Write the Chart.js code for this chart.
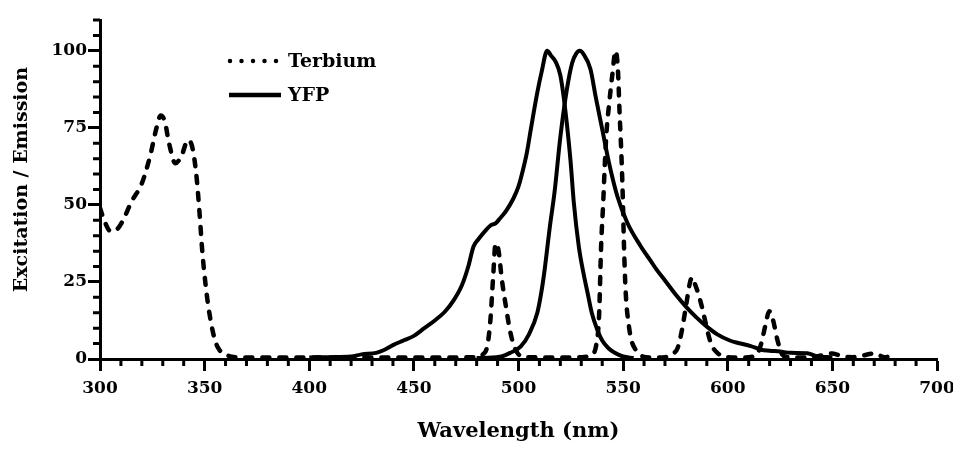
<!DOCTYPE html>
<html>
<head>
<meta charset="utf-8">
<script src="https://cdn.jsdelivr.net/npm/chart.js@4.4.1/dist/chart.umd.min.js"></script>
<style>
  html, body { margin: 0; padding: 0; background: #fff; }
  #wrap { width: 953px; height: 450px; }
</style>
</head>
<body>
<div id="wrap"><canvas id="spectra" width="953" height="450"></canvas></div>
<script>
// Terbium luminescence (excitation + emission lines)
const terbiumWl = [300, 302, 305, 308, 311, 315, 320, 324, 327, 329, 331, 333, 336, 339, 342, 344, 346, 347.5, 349, 351, 353, 355, 357, 360, 363, 370, 380, 400, 420, 440, 460, 480, 483, 485, 486.5, 488, 489, 490.5, 492, 494, 496, 498, 500, 503, 520, 530, 535, 537, 538.5, 539.5, 540.5, 541.3, 542.1, 543.2, 544.8, 546.4, 547.5, 548.3, 549.3, 549.9, 550.4, 551.2, 552.7, 554, 556, 560, 565, 570, 573, 576, 578, 580, 582, 583, 584.5, 586, 588, 590, 592, 595, 600, 608, 612, 614, 616, 618, 619.8, 621.5, 623.8, 626, 629, 640, 645, 650, 655, 660, 665, 670, 675, 680];
const terbiumVal = [49, 45, 41.5, 42, 45, 51, 57, 66, 75, 79, 77, 70, 63.5, 66, 71, 69, 60, 48, 34, 21, 12, 6, 3, 1.5, 0.7, 0.5, 0.5, 0.5, 0.5, 0.5, 0.5, 0.6, 1.5, 4, 12, 28, 37.5, 35, 26, 17, 9, 4, 1.5, 0.6, 0.5, 0.6, 1.5, 4, 14, 37, 51, 64, 74, 82, 92, 100, 94, 80, 64, 51, 37, 22, 11, 6, 3, 0.7, 0.5, 0.6, 1.5, 3.5, 9, 17, 25, 26.5, 24, 21, 16, 10, 5, 2, 0.6, 0.5, 0.8, 1.5, 5, 11, 15.5, 13, 6, 1.5, 0.6, 0.5, 1.2, 1.8, 0.8, 0.6, 1.2, 1.8, 0.6, 1.5];

// YFP excitation
const yfpExWl = [400, 410, 420, 425, 432, 436, 440, 445, 450, 455, 460, 465, 469, 473, 476, 478.5, 481, 484, 487, 489, 491, 494, 497.5, 500, 502, 504, 506, 509, 511, 513.7, 515.5, 517.7, 520, 522.5, 524.9, 526.4, 528.8, 531, 533, 535, 537.7, 540, 543, 546, 550, 555];
const yfpExVal = [0.5, 0.6, 0.8, 1.5, 2, 3, 4.5, 6, 7.5, 10, 12.5, 15.5, 19, 24, 30, 36.5, 39, 41.5, 43.5, 44, 45.5, 48, 52, 56, 61, 67, 75, 86.5, 93, 100, 98.5, 96.5, 92, 80, 64, 51, 36.6, 28, 21.5, 15, 9.4, 6, 3.5, 2, 0.8, 0.3];

// YFP emission
const yfpEmWl = [480, 491, 496, 501, 505, 509, 511, 512.5, 515, 517.2, 520, 523, 525.6, 527.5, 529.3, 531, 534.4, 536.8, 540, 543.2, 547.2, 552, 558.4, 563, 566, 570, 575, 580, 585, 590, 595, 601, 605, 611, 616, 620, 625, 630, 638, 642, 650];
const yfpEmVal = [0.3, 0.7, 2, 4, 8, 15, 22, 29, 43, 54, 72, 87, 96, 99, 100, 99, 94, 85.4, 74.6, 63.8, 52.9, 44.2, 36.6, 32, 29, 25.5, 21, 17, 13.5, 10.5, 8, 6, 5.2, 4.2, 3, 2.7, 2.4, 2, 1.9, 1, 0.5];

const xMajorTicks = [300, 350, 400, 450, 500, 550, 600, 650, 700];
const yMajorTicks = [0, 25, 50, 75, 100];

const FONT = "'DejaVu Serif', serif";

function toPoints(xs, ys) {
    return xs.map((x, i) => ({ x: x, y: ys[i] }));
}

// minor ticks + inline legend
const extrasPlugin = {
    id: 'extras',
    afterDraw(chart) {
        const ctx = chart.ctx;
        const xs = chart.scales.x;
        const ys = chart.scales.y;
        const area = chart.chartArea;
        ctx.save();
        ctx.strokeStyle = '#000';
        ctx.lineWidth = 3;
        ctx.beginPath();
        for (let v = 310; v < 700; v += 10) {
            if (v % 50 === 0) continue;
            const px = xs.getPixelForValue(v);
            ctx.moveTo(px, area.bottom);
            ctx.lineTo(px, area.bottom + 7);
        }
        for (let v = 5; v <= 110; v += 5) {
            if (v % 25 === 0) continue;
            const py = ys.getPixelForValue(v);
            ctx.moveTo(area.left, py);
            ctx.lineTo(area.left - 7, py);
        }
        ctx.stroke();

        // legend
        ctx.lineCap = 'round';
        ctx.lineWidth = 4.5;
        ctx.setLineDash([0, 11.5]);
        ctx.beginPath();
        ctx.moveTo(230, 61);
        ctx.lineTo(278, 61);
        ctx.stroke();
        ctx.setLineDash([]);
        ctx.lineCap = 'butt';
        ctx.beginPath();
        ctx.moveTo(229, 95);
        ctx.lineTo(281, 95);
        ctx.stroke();
        ctx.fillStyle = '#000';
        ctx.font = "bold 19px " + FONT;
        ctx.textBaseline = 'middle';
        ctx.textAlign = 'left';
        ctx.fillText(chart.data.datasets[0].label, 288, 62);
        ctx.fillText('YFP', 288, 96);
        ctx.restore();
    }
};

const lineBase = {
    borderColor: '#000',
    backgroundColor: '#000',
    pointRadius: 0,
    fill: false,
    cubicInterpolationMode: 'monotone',
    borderJoinStyle: 'round'
};

new Chart(document.getElementById('spectra').getContext('2d'), {
    type: 'line',
    data: {
        datasets: [
            Object.assign({}, lineBase, {
                label: 'Terbium',
                data: toPoints(terbiumWl, terbiumVal),
                borderWidth: 4.5,
                borderDash: [7, 10],
                borderCapStyle: 'round'
            }),
            Object.assign({}, lineBase, {
                label: 'YFP',
                data: toPoints(yfpExWl, yfpExVal),
                borderWidth: 4,
                borderCapStyle: 'butt'
            }),
            Object.assign({}, lineBase, {
                label: 'YFP emission',
                data: toPoints(yfpEmWl, yfpEmVal),
                borderWidth: 4,
                borderCapStyle: 'butt'
            })
        ]
    },
    options: {
        responsive: false,
        animation: false,
        devicePixelRatio: 1,
        layout: { padding: { top: 20, right: 16, left: 0, bottom: 0 } },
        plugins: {
            legend: { display: false },
            tooltip: { enabled: false }
        },
        scales: {
            x: {
                type: 'linear',
                min: 300,
                max: 700,
                afterBuildTicks: (s) => { s.ticks = xMajorTicks.map(v => ({ value: v })); },
                afterFit: (s) => { s.height = 91; s.paddingRight = 0; s.paddingLeft = 0; },
                border: { display: true, color: '#000', width: 3 },
                grid: { drawOnChartArea: false, drawTicks: true, tickLength: 12, tickWidth: 3, color: '#000' },
                ticks: {
                    color: '#000',
                    padding: 7,
                    maxRotation: 0,
                    font: { family: FONT, size: 17, weight: 'bold' }
                },
                title: {
                    display: true,
                    text: 'Wavelength (nm)',
                    color: '#000',
                    font: { family: FONT, size: 21, weight: 'bold' },
                    padding: { top: 0, bottom: 6 }
                }
            },
            y: {
                type: 'linear',
                min: 0,
                max: 110,
                afterBuildTicks: (s) => { s.ticks = yMajorTicks.map(v => ({ value: v })); },
                afterFit: (s) => { s.width = 100; },
                border: { display: true, color: '#000', width: 3 },
                grid: { drawOnChartArea: false, drawTicks: true, tickLength: 12, tickWidth: 3, color: '#000' },
                ticks: {
                    color: '#000',
                    padding: 1,
                    font: { family: FONT, size: 17, weight: 'bold' }
                },
                title: {
                    display: true,
                    text: '   Excitation / Emission',
                    color: '#000',
                    font: { family: FONT, size: 19, weight: 'bold' },
                    padding: { top: 11, bottom: 0 }
                }
            }
        }
    },
    plugins: [extrasPlugin]
});
</script>
</body>
</html>
